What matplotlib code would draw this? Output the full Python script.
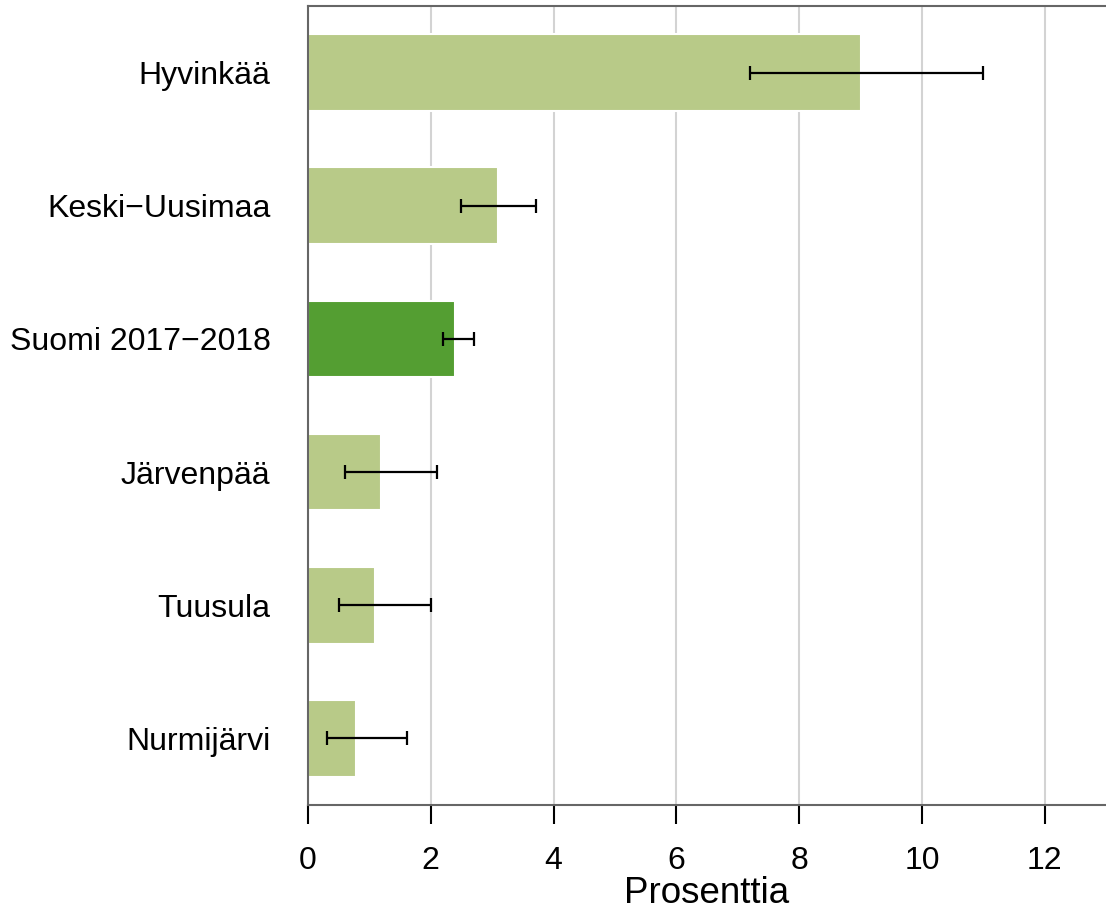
import matplotlib
matplotlib.use("Agg")
import matplotlib.pyplot as plt

categories = ["Hyvinkää", "Keski\u2212Uusimaa", "Suomi 2017\u22122018", "Järvenpää", "Tuusula", "Nurmijärvi"]
values = [9.0, 3.09, 2.39, 1.19, 1.09, 0.78]
lower = [7.2, 2.49, 2.2, 0.6, 0.5, 0.31]
upper = [11.0, 3.71, 2.7, 2.1, 2.0, 1.61]
highlight = [False, False, True, False, False, False]

plt.rcParams['font.family'] = ['Liberation Sans', 'DejaVu Sans']

fig = plt.figure(figsize=(11.06, 9.17), dpi=100)
ax = fig.add_axes([308/1106, 1 - 805/917, (1105-308)/1106, (805-6)/917])

light = "#b8ca88"
dark = "#549e32"
ypos = list(range(len(categories)))[::-1]
colors = [dark if h else light for h in highlight]

ax.set_axisbelow(True)
ax.grid(axis='x', color='#d3d3d3', linewidth=1.5)
ax.barh(ypos, values, height=0.575, color=colors, edgecolor='white', linewidth=1.5, zorder=2)
xerr = [[v - l for v, l in zip(values, lower)], [u - v for u, v in zip(upper, values)]]
ax.errorbar(values, ypos, xerr=xerr, fmt='none', ecolor='black', elinewidth=1.6, capsize=5, capthick=1.6, zorder=3)

ax.set_xlim(0, 12.98)
ax.set_ylim(-0.5, 5.5)
ax.set_xticks([0, 2, 4, 6, 8, 10, 12])
ax.set_yticks(ypos)
ax.set_yticklabels(categories)
ax.tick_params(axis='y', length=0, pad=27, labelsize=23)
ax.tick_params(axis='x', length=13.5, width=1.5, color='black', pad=16, labelsize=23)
ax.set_xlabel("Prosenttia", fontsize=26.5, labelpad=0)

for s in ['left', 'top', 'bottom']:
    ax.spines[s].set_color('#666666')
    ax.spines[s].set_linewidth(1.5)
ax.spines['right'].set_visible(False)

fig.savefig("out.png", dpi=100)
